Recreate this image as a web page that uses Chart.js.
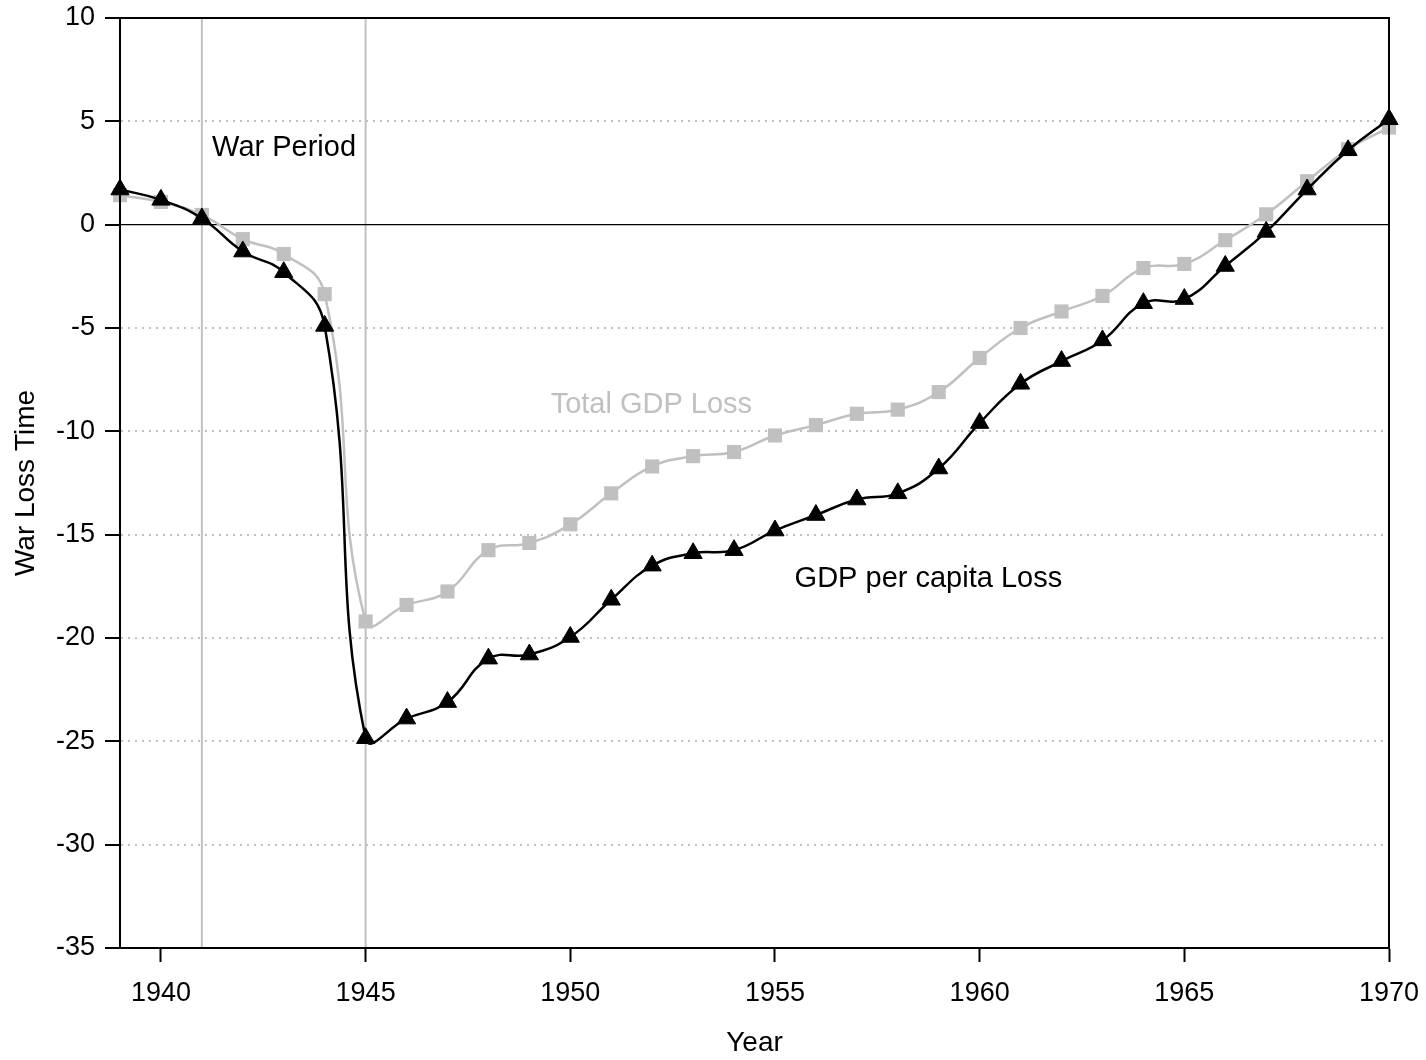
<!DOCTYPE html>
<html>
<head>
<meta charset="utf-8">
<script src="https://cdn.jsdelivr.net/npm/chart.js@4.4.1/dist/chart.umd.min.js"></script>
<style>
  body { margin: 0; background: #fff; }
  #wrap { width: 1426px; height: 1060px; }
</style>
</head>
<body>
<div id="wrap"><canvas id="chart" width="1426" height="1060"></canvas></div>
<script>
const years = [1939, 1940, 1941, 1942, 1943, 1944, 1945, 1946, 1947, 1948, 1949, 1950, 1951, 1952, 1953, 1954,
               1955, 1956, 1957, 1958, 1959, 1960, 1961, 1962, 1963, 1964, 1965, 1966, 1967, 1968, 1969, 1970];
const perCapitaLoss = [1.7, 1.2, 0.3, -1.3, -2.3, -4.9, -24.85, -23.9, -23.1, -21.0, -20.8, -19.95, -18.15, -16.5, -15.9, -15.75,
                       -14.8, -14.05, -13.3, -13.0, -11.8, -9.6, -7.7, -6.6, -5.6, -3.8, -3.6, -2.0, -0.35, 1.7, 3.6, 5.1];
const totalLoss = [1.43, 1.1, 0.47, -0.7, -1.42, -3.36, -19.2, -18.4, -17.75, -15.75, -15.4, -14.5, -13.0, -11.7, -11.2, -11.0,
                   -10.2, -9.7, -9.15, -8.95, -8.1, -6.45, -5.0, -4.2, -3.45, -2.1, -1.9, -0.75, 0.5, 2.1, 3.65, 4.7];
const warYears = [1941, 1945];
const xTicks = [1940, 1945, 1950, 1955, 1960, 1965, 1970];
const yTicks = [10, 5, 0, -5, -10, -15, -20, -25, -30, -35];

const xMin = 1939, xMax = 1970, yMin = -35, yMax = 10;
const grey = '#c0c0c0';

Chart.defaults.font.family = '"Liberation Sans", Arial, sans-serif';
Chart.defaults.color = '#000';

function pts(vals) {
  return years.map((y, i) => ({ x: y, y: vals[i] }));
}

// war period verticals and zero line as plain line datasets
const warLines = warYears.map(w => ({
  label: 'war ' + w,
  data: [{ x: w, y: yMin }, { x: w, y: yMax }],
  borderColor: grey,
  borderWidth: 2,
  pointRadius: 0,
  showLine: true,
  order: 5
}));

const zeroLine = {
  label: 'zero',
  data: [{ x: xMin, y: 0 }, { x: xMax, y: 0 }],
  borderColor: '#000',
  borderWidth: 1.2,
  pointRadius: 0,
  showLine: true,
  order: 4
};

// frame round the plot area
const framePlugin = {
  id: 'frame',
  afterDraw(chart) {
    const { ctx, chartArea: a } = chart;
    ctx.save();
    ctx.strokeStyle = '#000';
    ctx.lineWidth = 2;
    ctx.strokeRect(a.left, a.top, a.right - a.left, a.bottom - a.top);
    ctx.restore();
  }
};

const notes = [
  { text: 'War Period', x: 1941.25, y: 3.7, color: '#000' },
  { text: 'Total GDP Loss', x: 1949.52, y: -8.72, color: grey },
  { text: 'GDP per capita Loss', x: 1955.48, y: -17.13, color: '#000' }
];

const notesPlugin = {
  id: 'notes',
  afterDatasetsDraw(chart) {
    const { ctx, scales } = chart;
    ctx.save();
    ctx.font = '29px "Liberation Sans", Arial, sans-serif';
    ctx.textAlign = 'left';
    ctx.textBaseline = 'middle';
    for (const n of notes) {
      ctx.fillStyle = n.color;
      ctx.fillText(n.text, scales.x.getPixelForValue(n.x), scales.y.getPixelForValue(n.y));
    }
    ctx.restore();
  }
};

new Chart(document.getElementById('chart'), {
  type: 'scatter',
  data: {
    datasets: [
      {
        label: 'GDP per capita Loss',
        data: pts(perCapitaLoss),
        showLine: true,
        borderColor: '#000',
        borderWidth: 2.5,
        tension: 0.45,
        pointStyle: 'triangle',
        pointRadius: 10.5,
        pointBackgroundColor: '#000',
        pointBorderColor: '#000',
        pointBorderWidth: 1,
        clip: false,
        order: 1
      },
      {
        label: 'Total GDP Loss',
        data: pts(totalLoss),
        showLine: true,
        borderColor: grey,
        borderWidth: 2.5,
        tension: 0.45,
        pointStyle: 'rect',
        pointRadius: 10,
        pointBackgroundColor: grey,
        pointBorderColor: grey,
        pointBorderWidth: 0,
        clip: false,
        order: 2
      },
      zeroLine,
      ...warLines
    ]
  },
  options: {
    responsive: false,
    animation: false,
    events: [],
    layout: { padding: { top: 18, right: 37, left: 0, bottom: 0 } },
    plugins: {
      legend: { display: false },
      tooltip: { enabled: false }
    },
    scales: {
      x: {
        type: 'linear',
        min: xMin,
        max: xMax,
        afterBuildTicks: scale => { scale.ticks = xTicks.map(v => ({ value: v })); },
        afterFit: scale => {
          scale.height = 112;
          scale.paddingLeft = 0;
          scale.paddingRight = 0;
        },
        grid: {
          drawOnChartArea: false,
          tickLength: 14,
          tickWidth: 2,
          tickColor: '#000'
        },
        border: { color: '#000', width: 2 },
        ticks: {
          padding: 15,
          maxRotation: 0,
          font: { size: 27 },
          color: '#000',
          callback: v => String(v)
        },
        title: {
          display: true,
          text: 'Year',
          font: { size: 28 },
          color: '#000',
          padding: { top: 7, bottom: 0 }
        }
      },
      y: {
        type: 'linear',
        min: yMin,
        max: yMax,
        afterBuildTicks: scale => { scale.ticks = yTicks.map(v => ({ value: v })); },
        afterFit: scale => {
          scale.width = 120;
          scale.paddingTop = 0;
          scale.paddingBottom = 0;
        },
        grid: {
          color: c => (c.tick && [0, yMin, yMax].includes(c.tick.value)) ? 'rgba(0,0,0,0)' : grey,
          lineWidth: 2,
          tickLength: 15,
          tickWidth: 2,
          tickColor: '#000'
        },
        border: { color: '#000', width: 2, dash: [2, 5] },
        ticks: {
          padding: 10,
          font: { size: 27 },
          color: '#000'
        },
        title: {
          display: true,
          text: 'War Loss Time',
          font: { size: 28 },
          color: '#000',
          padding: { top: 9, bottom: 0 }
        }
      }
    }
  },
  plugins: [framePlugin, notesPlugin]
});
</script>
</body>
</html>
